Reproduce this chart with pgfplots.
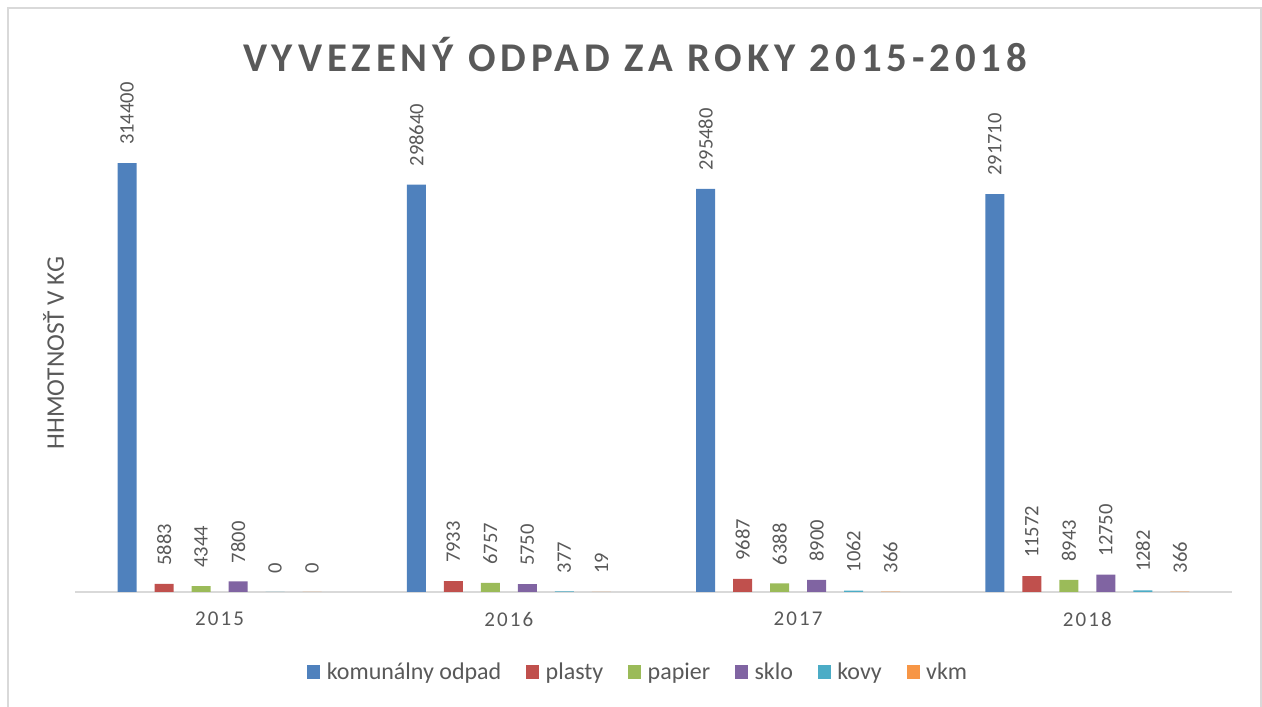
\documentclass[border=0pt]{standalone}
\usepackage{pgfplots}
\pgfplotsset{compat=1.18}
\usepackage{fontspec}
\setmainfont{Carlito}
\newfontfamily\titlefont[LetterSpace=12]{Carlito}
\newfontfamily\tickfont[LetterSpace=10]{Carlito}
\definecolor{cA}{HTML}{4F81BD}
\definecolor{cB}{HTML}{C0504D}
\definecolor{cC}{HTML}{9BBB59}
\definecolor{cD}{HTML}{8064A2}
\definecolor{cE}{HTML}{4BACC6}
\definecolor{cF}{HTML}{F79646}
\definecolor{txt}{HTML}{595959}
\definecolor{gridc}{HTML}{D9D9D9}
\begin{document}
\begin{tikzpicture}
\path[use as bounding box] (0,0) rectangle (946.5pt,529.5pt);
\draw[gridc, line width=1.5pt] (6pt,-5pt) -- (6pt,523.5pt) -- (945.75pt,523.5pt) -- (945.75pt,-5pt);
\node[font=\titlefont\bfseries\fontsize{30.6}{36}\selectfont, text=txt] at (476.25pt,488.5pt) {VYVEZENÝ ODPAD ZA ROKY 2015-2018};
\begin{axis}[
 at={(56.25pt,85.5pt)}, anchor=south west,
 scale only axis, width=867.75pt, height=354pt,
 clip=false,
 ybar=13.5pt, bar width=14.25pt,
 xmin=-0.5, xmax=3.5, ymin=0, ymax=346000,
 enlargelimits=false,
 xtick={0,1,2,3}, xticklabels={2015,2016,2017,2018},
 ytick=\empty,
 axis x line*=bottom, axis y line*=left,
 x axis line style={-, draw=gridc, line width=1.1pt},
 y axis line style={draw=none},
 major tick length=0pt,
 xticklabel style={font=\tickfont\fontsize{15.75}{18}\selectfont, text=txt, inner sep=0pt, yshift=-15pt},
 point meta=explicit symbolic,
 nodes near coords,
 every node near coord/.append style={font=\fontsize{15.4}{18}\selectfont, text=txt, yshift=13.5pt, rotate=90, anchor=west, inner sep=0pt},
 legend columns=6,
 legend style={draw=none, at={(0.487,-0.1695)}, anchor=center, font=\fontsize{18}{21}\selectfont, text=txt,
   /tikz/every even column/.append style={column sep=16.5pt},
   /tikz/every odd column/.append style={column sep=3pt}},
 legend image code/.code={\fill[#1] (0pt,-4.9pt) rectangle (9.75pt,4.9pt);},
]
\addplot[fill=cA, draw=none] coordinates {(0,314400)[314400] (1,298640)[298640] (2,295480)[295480] (3,291710)[291710]};
\addplot[fill=cB, draw=none] coordinates {(0,5883)[5883] (1,7933)[7933] (2,9687)[9687] (3,11572)[11572]};
\addplot[fill=cC, draw=none] coordinates {(0,4344)[4344] (1,6757)[6757] (2,6388)[6388] (3,8943)[8943]};
\addplot[fill=cD, draw=none] coordinates {(0,7800)[7800] (1,5750)[5750] (2,8900)[8900] (3,12750)[12750]};
\addplot[fill=cE, draw=none] coordinates {(0,0)[0] (1,377)[377] (2,1062)[1062] (3,1282)[1282]};
\addplot[fill=cF, draw=none] coordinates {(0,0)[0] (1,19)[19] (2,366)[366] (3,366)[366]};
\legend{komunálny odpad, plasty, papier, sklo, kovy, vkm}
\node[rotate=90, font=\fontsize{19}{22}\selectfont, text=txt, anchor=center] at (rel axis cs:-0.0185,0.506) {HHMOTNOSŤ V KG};
\end{axis}
\end{tikzpicture}
\end{document}
